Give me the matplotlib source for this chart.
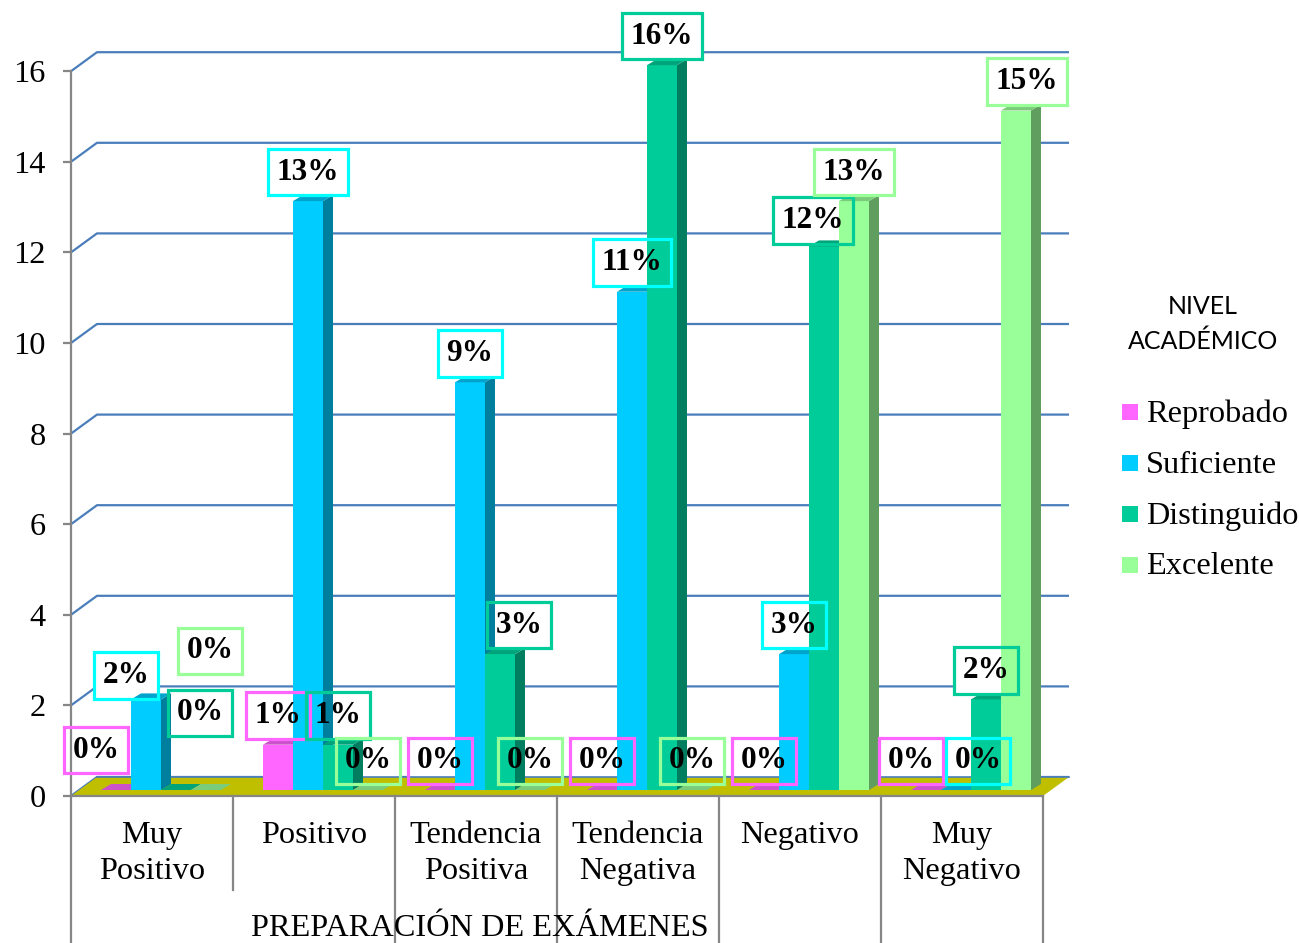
import matplotlib
matplotlib.use("Agg")
import matplotlib.pyplot as plt
from matplotlib.patches import Polygon, Rectangle
import numpy as np

categories = ["Muy\nPositivo", "Positivo", "Tendencia\nPositiva", "Tendencia\nNegativa", "Negativo", "Muy\nNegativo"]
series_names = ["Reprobado", "Suficiente", "Distinguido", "Excelente"]
reprobado = [0, 1, 0, 0, 0, 0]
suficiente = [2, 13, 9, 11, 3, 0]
distinguido = [0, 1, 3, 16, 12, 2]
excelente = [0, 0, 0, 0, 13, 15]
series_values = [reprobado, suficiente, distinguido, excelente]
yticks = [0, 2, 4, 6, 8, 10, 12, 14, 16]
x_title = "PREPARACIÓN DE EXÁMENES"
legend_title = "NIVEL\nACADÉMICO"

colors = ["#FF66FF", "#00CCFF", "#00CC99", "#99FF99"]
label_edge = ["#FF66FF", "#00FFFF", "#00CC99", "#99FF99"]

def shade(c, f):
    c = np.array(matplotlib.colors.to_rgb(c))
    return tuple(c * f)

W, H = 1299, 943
DPI = 100
fig = plt.figure(figsize=(W / DPI, H / DPI), dpi=DPI)

SERIF = "Liberation Serif"
FS = 23.3

# pixel geometry
px_left, px_right, px_zero = 71, 1043, 796
ppu = 45.3  # pixels per value unit
ymax = 17.4
ax_h_px = ymax * ppu
ax = fig.add_axes([px_left / W, (H - px_zero) / H, (px_right - px_left) / W, ax_h_px / H])
ax.set_xlim(0, len(categories))
ax.set_ylim(0, ymax)
ax.patch.set_alpha(0)

cat_px = (px_right - px_left) / len(categories)
# depth vectors (data units)
wall_dx, wall_dy = 26 / cat_px, 19 / ppu
shift_dx, shift_dy = 9 / cat_px, 6 / ppu
bar_dx, bar_dy = 10 / cat_px, 6 / ppu
bw = 30 / cat_px
group_w = bw * len(series_names)

grid_c = "#4A7EBB"
axis_c = "#868686"

# side and back wall gridlines
for v in yticks:
    ax.plot([0, wall_dx, len(categories) + wall_dx], [v, v + wall_dy, v + wall_dy],
            color=grid_c, lw=1.6, zorder=1, clip_on=False, solid_capstyle="butt")

# floor
floor = Polygon([(0, 0), (len(categories), 0), (len(categories) + wall_dx, wall_dy), (wall_dx, wall_dy)],
                closed=True, facecolor="#BFBF00", edgecolor="none", zorder=2, clip_on=False)
ax.add_patch(floor)
ax.plot([wall_dx, len(categories) + wall_dx], [wall_dy, wall_dy], color=grid_c, lw=1.2, zorder=2.1, clip_on=False)

# label offsets (pixels): (series, category) -> (dx, dy)
label_offsets = {(0, 0): (-20, 11), (1, 0): (-20, -5), (2, 0): (24, 48), (3, 0): (4, 110),
                 (2, 2): (19, 0), (2, 4): (-11, -3), (0, 5): (-15, 0), (1, 5): (22, 0), (3, 5): (11, 0)}

z = 3
for i in range(len(categories)):
    for j, vals in enumerate(series_values):
        v = vals[i]
        x0 = i + (1 - group_w) / 2 + j * bw + shift_dx
        y0 = shift_dy
        ax.bar(x0, v, width=bw, bottom=y0, align="edge", color=colors[j], edgecolor="none",
               zorder=z, clip_on=False)
        side = Polygon([(x0 + bw, y0), (x0 + bw + bar_dx, y0 + bar_dy),
                        (x0 + bw + bar_dx, y0 + v + bar_dy), (x0 + bw, y0 + v)],
                       closed=True, facecolor=shade(colors[j], 0.62), edgecolor="none", zorder=z, clip_on=False)
        top = Polygon([(x0, y0 + v), (x0 + bw, y0 + v), (x0 + bw + bar_dx, y0 + v + bar_dy),
                       (x0 + bar_dx, y0 + v + bar_dy)],
                      closed=True, facecolor=shade(colors[j], 0.8), edgecolor="none", zorder=z, clip_on=False)
        ax.add_patch(side)
        ax.add_patch(top)
        z += 0.01
        dx, dy = label_offsets.get((j, i), (0, 0))
        txt = f"{v}%"
        xy = (x0 + bw / 2, y0 + v)
        off = (dx * 0.72, (29 + dy) * 0.72)
        # white fill below bars
        ax.annotate(txt, xy=xy, xytext=off, textcoords="offset points", ha="center", va="center",
                    fontsize=22.5, fontweight="bold", family=SERIF, color=(0, 0, 0, 0),
                    bbox=dict(boxstyle="square,pad=0.28", facecolor="white", edgecolor="none"),
                    zorder=1.5, annotation_clip=False)
        # border + text on top
        ax.annotate(txt, xy=xy, xytext=off, textcoords="offset points", ha="center", va="center",
                    fontsize=22.5, fontweight="bold", family=SERIF, color="black",
                    bbox=dict(boxstyle="square,pad=0.28", facecolor="none", edgecolor=label_edge[j], linewidth=2.3),
                    zorder=10, annotation_clip=False)

# axes styling
for s in ["top", "right"]:
    ax.spines[s].set_visible(False)
ax.spines["left"].set_bounds(0, 16)
ax.spines["left"].set_color(axis_c)
ax.spines["left"].set_linewidth(1.6)
ax.spines["bottom"].set_color(axis_c)
ax.spines["bottom"].set_linewidth(1.6)
ax.spines["bottom"].set_zorder(2.5)
ax.set_yticks(yticks)
ax.set_yticklabels([str(t) for t in yticks], family=SERIF, fontsize=FS)
ax.tick_params(axis="y", length=6, width=1.6, color=axis_c, pad=12)
ax.set_xticks([])

# category dividers and labels
xt = ax.get_xaxis_transform()
def yfrac(px):
    return (px_zero - px) / ax_h_px
for k in range(len(categories) + 1):
    bottom_px = 890 if k == 1 else H
    ax.plot([k, k], [0, yfrac(bottom_px)], transform=xt, color=axis_c, lw=1.6, clip_on=False)
for i, c in enumerate(categories):
    ax.text(i + 0.5, yfrac(821), c, transform=xt, ha="center", va="top", family=SERIF,
            fontsize=FS, linespacing=1.3)
ax.text((480 - px_left) / cat_px, yfrac(928), x_title, transform=xt, ha="center", va="center",
        family=SERIF, fontsize=FS)

# legend (manual)
fig.text(1203 / W, 1 - 324 / H, legend_title, ha="center", va="center", family="Lato", fontsize=18,
         linespacing=1.55)
for j, name in enumerate(series_names):
    cy = 412 + 51 * j
    fig.patches.append(Rectangle((1122 / W, 1 - (cy + 8) / H), 16 / W, 16 / H, transform=fig.transFigure,
                                 facecolor=colors[j], edgecolor="none", figure=fig))
    fig.text(1146 / W, 1 - (cy + 2) / H, name, ha="left", va="center", family=SERIF, fontsize=FS)

fig.savefig("out.png", dpi=DPI)
